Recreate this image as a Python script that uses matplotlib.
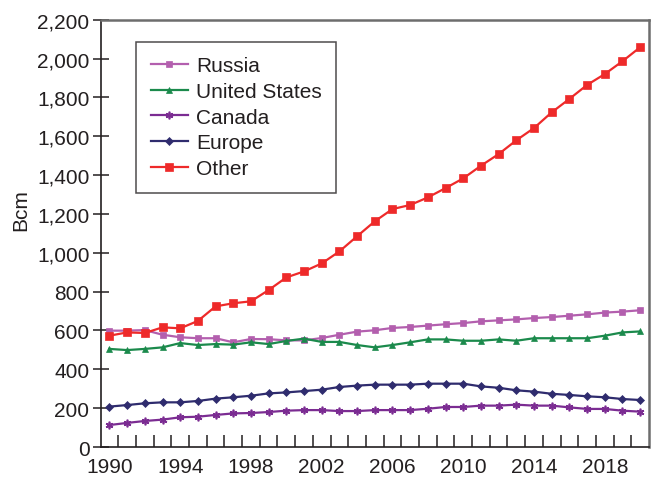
import matplotlib
matplotlib.use("Agg")
import matplotlib.pyplot as plt
import numpy as np

# Annual natural gas production, billion cubic metres
years = list(range(1990, 2021))

russia = [599, 599, 602, 578, 565, 560, 560, 539, 556, 555, 549, 549, 561, 578, 594, 601,
          613, 618, 625, 632, 638, 647, 652, 657, 664, 669, 676, 683, 692, 697, 704]
united_states = [505, 499, 505, 513, 535, 525, 530, 527, 539, 530, 546, 558, 541, 541, 525, 513,
                 525, 539, 554, 554, 547, 547, 554, 547, 560, 560, 560, 560, 573, 590, 595]
canada = [113, 124, 134, 141, 153, 156, 165, 173, 175, 180, 187, 190, 190, 185, 185, 190,
          190, 190, 197, 206, 206, 213, 213, 218, 213, 213, 204, 196, 196, 187, 182]
europe = [208, 216, 225, 230, 230, 237, 249, 256, 264, 276, 281, 288, 295, 309, 316, 321,
          321, 321, 326, 326, 326, 312, 305, 292, 285, 274, 268, 261, 256, 247, 242]
other = [573, 590, 587, 616, 611, 649, 724, 740, 750, 808, 873, 904, 945, 1007, 1085, 1162,
         1225, 1246, 1285, 1333, 1383, 1448, 1508, 1579, 1642, 1723, 1792, 1864, 1920, 1986, 2058]

year_labels = ["1990", "1994", "1998", "2002", "2006", "2010", "2014", "2018"]
y_ticks = list(range(0, 2201, 200))

plt.rcParams["font.family"] = ["Liberation Sans", "DejaVu Sans"]
plt.rcParams["font.size"] = 15
text_color = "#231f20"

fig = plt.figure(figsize=(6.57, 4.81), dpi=100)
ax = fig.add_axes([0.1531, 0.0686, 0.8347, 0.8884])

x = np.arange(len(years))
asterisk = (6, 2, 0)
series = [
    ("Russia", russia, "#b35fae", "s", 4.2, 1.6),
    ("United States", united_states, "#1b8a4c", "^", 5.0, 1.6),
    ("Canada", canada, "#7b2c92", asterisk, 5.5, 1.6),
    ("Europe", europe, "#2f2c6e", "D", 4.0, 1.6),
    ("Other", other, "#ee2a2a", "s", 5.5, 1.6),
]
for name, vals, color, marker, ms, lw in series:
    ax.plot(x, vals, color=color, marker=marker, markersize=ms, linewidth=lw,
            markeredgewidth=1.2 if marker == asterisk else 0.5, label=name)

ax.set_xlim(-0.5, len(years) - 0.5)
ax.set_ylim(0, 2200)

ax.set_yticks(y_ticks)
ax.set_yticklabels([f"{v:,}" for v in y_ticks], color=text_color)
ax.tick_params(axis="y", direction="inout", length=12, width=1.1, color="#231f20", pad=2)

label_pos = [years.index(int(s)) for s in year_labels]
ax.set_xticks(label_pos)
ax.set_xticklabels(year_labels, color=text_color)
ax.set_xticks(np.arange(0.5, len(years) - 1, 1.0), minor=True)
ax.tick_params(axis="x", which="major", length=0, pad=7)
ax.tick_params(axis="x", which="minor", direction="in", length=9, width=1.1, color="#231f20")

for side in ["left", "bottom"]:
    ax.spines[side].set_color("#231f20")
    ax.spines[side].set_linewidth(1.2)
for side in ["top", "right"]:
    ax.spines[side].set_color("#6d6d6d")
    ax.spines[side].set_linewidth(1.8)

ax.set_ylabel("Bcm", color=text_color)
ax.yaxis.set_label_coords(-0.128, 0.557)

leg = ax.legend(loc="upper left", bbox_to_anchor=(0.0646, 0.9485), borderaxespad=0,
                frameon=True, fancybox=False, handlelength=1.78, handletextpad=0.4,
                labelspacing=0.32, borderpad=0.7, fontsize=15)
leg.get_frame().set_edgecolor("#231f20")
leg.get_frame().set_linewidth(1.1)
for t in leg.get_texts():
    t.set_color(text_color)

fig.savefig("out.png", dpi=100)
